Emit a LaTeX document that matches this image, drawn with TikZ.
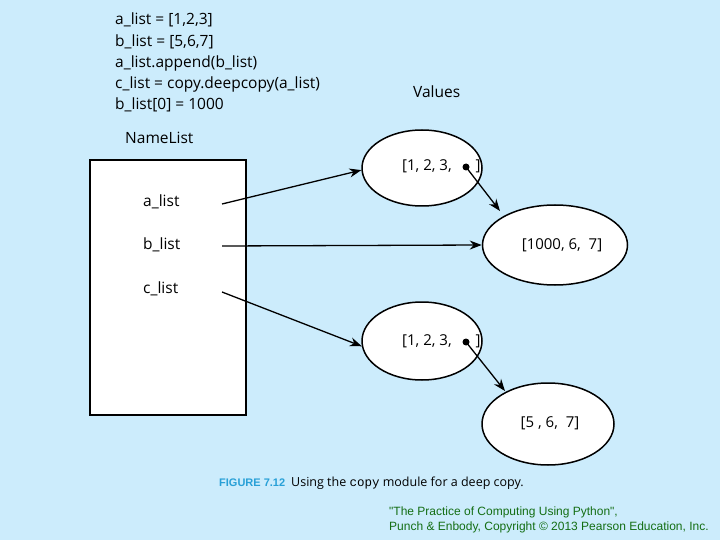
\documentclass[tikz,border=0pt]{standalone}
\usepackage{fontspec}
\setmainfont{Open Sans}
\newfontfamily\creditfont{Liberation Sans}
\newfontfamily\capfont{Liberation Sans}
\newfontfamily\codemono{Liberation Mono}
\usetikzlibrary{shapes.geometric,arrows.meta}
\definecolor{bgblue}{RGB}{204,236,252}
\definecolor{figblue}{RGB}{40,160,215}
\definecolor{credgreen}{RGB}{20,110,20}
\tikzset{
  codetxt/.style={anchor=west,inner sep=0pt,font=\fontsize{15.5}{18}\selectfont},
  lbl/.style={inner sep=0pt,font=\fontsize{15}{18}\selectfont},
  valell/.style={draw,line width=1.5pt,ellipse,fill=white,inner sep=0pt},
  ptr/.style={line width=1.3pt,-{Stealth[length=12pt,width=9pt]}},
  dotmark/.style={circle,fill=black,inner sep=0pt,minimum size=7pt},
}
\begin{document}
\begin{tikzpicture}[x=1pt,y=-1pt]
\fill[bgblue] (0,0) rectangle (720,540);
\useasboundingbox (0,0) rectangle (720,540);
\node[codetxt] (l1) at (115,20) {a\_list = [1,2,3]};
\node[codetxt] (l2) at (115,42) {b\_list = [5,6,7]};
\node[codetxt] (l3) at (115,63) {a\_list.append(b\_list)};
\node[codetxt] (l4) at (115,84) {c\_list = copy.deepcopy(a\_list)};
\node[codetxt] (l5) at (115,105) {b\_list[0] = 1000};
\node[codetxt] (nl) at (125,138) {NameList};
\node[codetxt] (vals) at (413,92) {Values};
\node[draw,line width=1.5pt,fill=white,minimum width=156pt,minimum height=255pt,inner sep=0pt] (box) at (168,287.5) {};
\node[codetxt] (an) at (143,202) {a\_list};
\node[codetxt] (bn) at (143,245) {b\_list};
\node[codetxt] (cn) at (143,289) {c\_list};
\node[valell,minimum width=120pt,minimum height=76pt] (e1) at (422,168) {};
\node[lbl,anchor=west] (t1) at (402,166) {[1, 2, 3,\hspace{24pt}]};
\node[dotmark] (d1) at (466,167) {};
\node[valell,minimum width=145pt,minimum height=80pt] (e2) at (555,245) {};
\node[lbl] (t2) at (562,245) {[1000, 6,\ \ 7]};
\node[valell,minimum width=120pt,minimum height=78pt] (e3) at (422,341) {};
\node[lbl,anchor=west] (t3) at (402,341) {[1, 2, 3,\hspace{24pt}]};
\node[dotmark] (d3) at (466,342) {};
\node[valell,minimum width=132pt,minimum height=82pt] (e4) at (548,424) {};
\node[lbl] (t4) at (550,423) {[5 , 6,\ \ 7]};
\coordinate (as) at (222,204);
\coordinate (bs) at (222,246);
\coordinate (cs) at (222,292);
\draw[ptr] (as) -- (e1.182);
\draw[ptr] (bs) -- (e2.west);
\draw[ptr] (cs) -- (e3.185);
\draw[ptr] (d1.center) -- (500,211);
\draw[ptr] (d3.center) -- (505,391);
\node[anchor=west,inner sep=0pt,font=\capfont\fontsize{11}{13}\selectfont] (cap) at (219,483) {\textcolor{figblue}{\textbf{FIGURE 7.12}}\hspace{6pt}{\rmfamily\fontsize{12.5}{14}\selectfont Using the {\codemono copy} module for a deep copy.}};
\node[anchor=west,inner sep=0pt,text=credgreen,font=\creditfont\fontsize{12}{15}\selectfont,align=left] (cr) at (389,520) {"The Practice of Computing Using Python",\\Punch \& Enbody, Copyright \textcopyright{} 2013 Pearson Education, Inc.};
\end{tikzpicture}
\end{document}
